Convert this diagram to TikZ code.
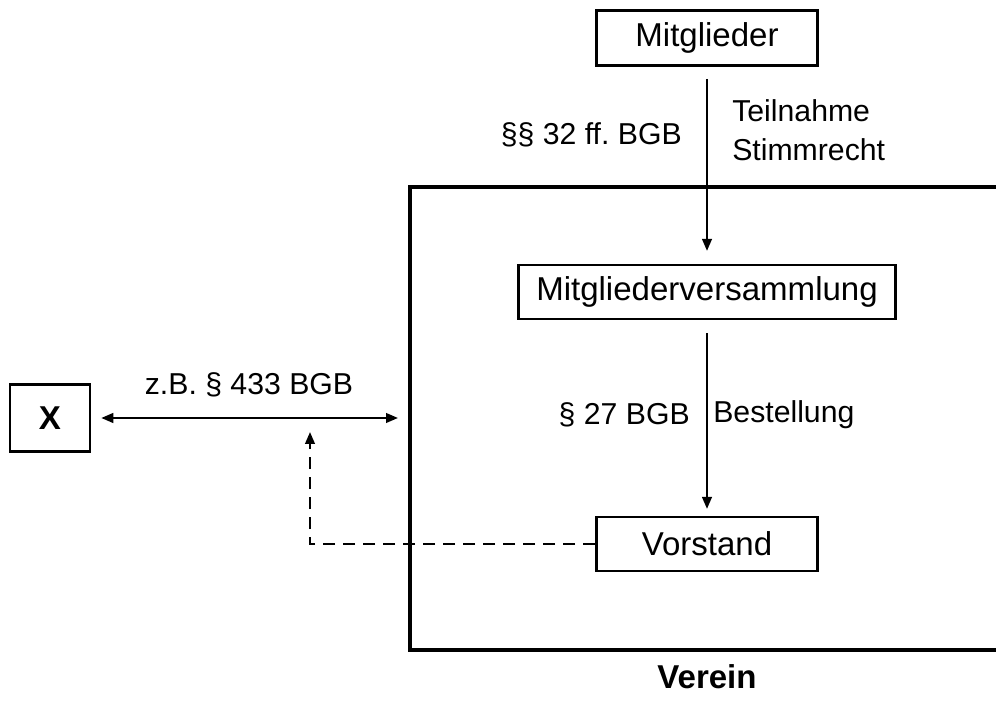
\documentclass[tikz,border=0pt]{standalone}
\usepackage{fontspec}
\setmainfont{Liberation Sans}
\usetikzlibrary{arrows.meta, positioning}
\frenchspacing

\tikzset{
    box/.style={draw, line width=1.8pt, minimum height=1.35cm, inner sep=0pt, font=\fontsize{23.5}{28}\selectfont},
    label/.style={inner sep=0pt, font=\fontsize{21.5}{28}\selectfont},
    spitze/.tip={Triangle[length=0.3cm, width=0.24cm]},
    pfeil/.style={line width=1.6pt, -spitze},
    rahmen/.style={line width=2.4pt}
}

\begin{document}
\begin{tikzpicture}
        \useasboundingbox (0,0) rectangle (24.9,17.525);

        % nodes
        \node[box, minimum width=5.525cm, minimum height=1.375cm] (mitglieder) at (17.675,16.575) {Mitglieder};
        \node[box, minimum width=9.425cm] (mv) at (17.675,10.225) {Mitgliederversammlung};
        \node[box, minimum width=5.525cm] (vorstand) at (17.675,3.925) {Vorstand};
        \node[box, minimum width=2cm, minimum height=1.675cm, font=\fontsize{23.5}{28}\selectfont\bfseries] (x) at (1.25,7.075) {X};

        \node[label, anchor=east] (ges1) at (17.05,14.15) {§§ 32 ff. BGB};
        \node[label, anchor=west, align=left] (rechte) at (18.3,14.275) {Teilnahme\\Stimmrecht};
        \node[label, anchor=east] (ges2) at (17.25,7.15) {§ 27 BGB};
        \node[label, anchor=west] (best) at (17.825,7.15) {Bestellung};
        \node[label] (ges3) at (6.225,7.9) {z.B. § 433 BGB};
        \node[box, draw=none, font=\fontsize{23.5}{28}\selectfont\bfseries] (verein) at (17.675,0.6) {Verein};

        \coordinate (framein) at (9.95,7.075);
        \coordinate (dashend) at (7.75,6.725);

        % frame
        \draw[rahmen] (24.9,12.85) -- (10.25,12.85) -- (10.25,1.275) -- (24.9,1.275);

        % edges
        \draw[pfeil, shorten <=0.3cm, shorten >=0.32cm] (mitglieder) -- (mv);
        \draw[pfeil, shorten <=0.32cm, shorten >=0.17cm] (mv) -- (vorstand);
        \draw[pfeil, spitze-spitze, shorten <=0.25cm] (x.east) -- (framein);
        \draw[pfeil, dash pattern=on 0.3cm off 0.2cm] (vorstand.west) -| (dashend);

    \end{tikzpicture}
\end{document}
